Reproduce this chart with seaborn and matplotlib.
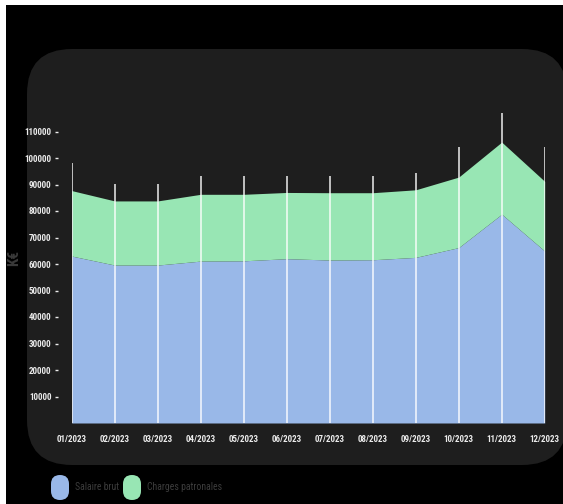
import numpy as np
import matplotlib
matplotlib.use("Agg")
import matplotlib.pyplot as plt
import seaborn as sns
from matplotlib import font_manager
from matplotlib.patches import FancyBboxPatch, Rectangle
from matplotlib.transforms import IdentityTransform

# Monthly payroll data (in €)
mois = ["01/2023", "02/2023", "03/2023", "04/2023", "05/2023", "06/2023",
        "07/2023", "08/2023", "09/2023", "10/2023", "11/2023", "12/2023"]
salaire_brut = [63000, 59600, 59600, 61100, 61200, 62000,
                61500, 61600, 62500, 66200, 78800, 64900]
charges_patronales = [24700, 24200, 24200, 25200, 25100, 25000,
                      25400, 25300, 25500, 26600, 27200, 26300]
plafond = [98000, 90200, 90200, 93100, 93100, 93100,
           93100, 93100, 94200, 104200, 117000, 104200]
yticks = [10000, 20000, 30000, 40000, 50000, 60000,
          70000, 80000, 90000, 100000, 110000]

series_names = ["Salaire brut", "Charges patronales"]
series_colors = ["#99B8E8", "#98E6B4"]

sns.set_theme(style="white")


def narrow_font():
    """Pick a condensed face if one is installed."""
    for fam, stretch in [("Liberation Sans Narrow", "normal"),
                         ("Roboto Condensed", "normal"),
                         ("Open Sans Condensed", "normal"),
                         ("DejaVu Sans", "condensed")]:
        fp = font_manager.FontProperties(family=fam, stretch=stretch)
        try:
            path = font_manager.findfont(fp, fallback_to_default=False)
        except Exception:
            continue
        if fam != "DejaVu Sans" or "Condensed" in path:
            return fam, stretch
    return "DejaVu Sans", "normal"


FAM, STRETCH = narrow_font()
plt.rcParams["font.family"] = [FAM, "DejaVu Sans"]
plt.rcParams["font.stretch"] = STRETCH

W, H = 563, 504
fig = plt.figure(figsize=(W / 100, H / 100), dpi=100, facecolor="white")

# black page and rounded dark card, in pixel coordinates
fig.patches.append(Rectangle((6, 0), W - 6, H - 5, transform=IdentityTransform(),
                             facecolor="black", edgecolor="none", zorder=0))
fig.patches.append(FancyBboxPatch((27, 39), 540, 416,
                                  boxstyle="round,pad=0,rounding_size=45",
                                  transform=IdentityTransform(),
                                  facecolor="#1E1E1E", edgecolor="none", zorder=1))

ax = fig.add_axes([71.7 / W, 81 / H, 473 / W, 318 / H])
ax.set_facecolor("none")
ax.set_zorder(2)

x = np.arange(len(mois))
ax.stackplot(x, salaire_brut, charges_patronales, colors=series_colors,
             labels=series_names, linewidth=0)
ax.vlines(x, 0, plafond, colors="white", alpha=0.78, linewidth=1.3, zorder=3)

ax.set_xlim(x[0], x[-1])
ax.set_ylim(0, 120000)
ax.set_xticks(x)
ax.set_xticklabels(mois)
ax.set_yticks(yticks)
ax.set_yticklabels([str(v) for v in yticks])

for s in ax.spines.values():
    s.set_visible(False)
ax.spines["left"].set_position(("outward", 10))
ax.tick_params(axis="y", colors="#EBEBEB", direction="out", length=2.5, width=1,
               pad=2, labelsize=6.5, left=True)
ax.tick_params(axis="x", colors="#EBEBEB", length=0, pad=9, labelsize=6.5)
for lab in ax.get_xticklabels() + ax.get_yticklabels():
    lab.set_fontweight("bold")

fig.text(14 / W, 1 - 258 / H, "K€", rotation=90, ha="center", va="center",
         color="#3A3A3A", fontsize=11, fontweight="bold")

# legend pills
pill_x = [51, 123]
text_x = [75, 147]
for name, color, px, tx in zip(series_names, series_colors, pill_x, text_x):
    fig.patches.append(FancyBboxPatch((px, 4), 18, 25,
                                      boxstyle="round,pad=0,rounding_size=9",
                                      transform=IdentityTransform(),
                                      facecolor=color, edgecolor="none", zorder=2))
    fig.text(tx / W, 16.5 / H, name, ha="left", va="center",
             color="#3C3C3C", fontsize=7)

fig.savefig("out.png", dpi=100, facecolor=fig.get_facecolor())
